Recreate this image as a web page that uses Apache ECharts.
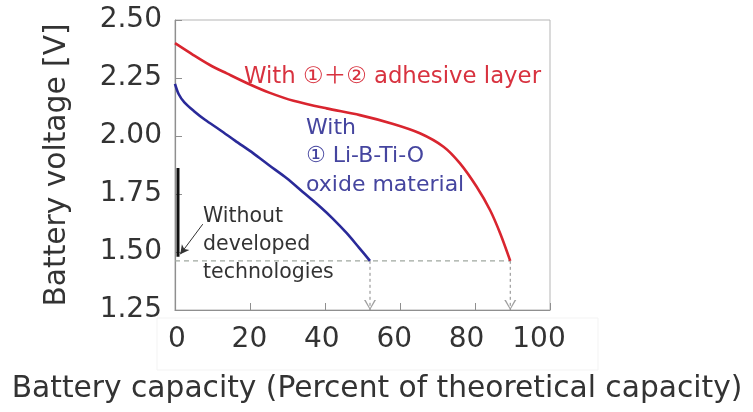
<!DOCTYPE html>
<html>
<head>
<meta charset="utf-8">
<script src="https://cdn.jsdelivr.net/npm/echarts@6/dist/echarts.min.js"></script>
<style>
html,body{margin:0;padding:0;background:#fff;}
#chart{width:753px;height:412px;}
</style>
</head>
<body>
<div id="chart"></div>
<script>
// ---- data ----
const xTickLabels = [0, 20, 40, 60, 80, 100];
const yTickLabels = ['1.25', '1.50', '1.75', '2.00', '2.25', '2.50'];

const adhesiveCurve = [ // With ①+② adhesive layer : [capacity %, voltage]
  [0, 2.40], [4.9, 2.349], [9.3, 2.306], [13.8, 2.27], [20, 2.222], [25.3, 2.186],
  [31.6, 2.152], [40.4, 2.119], [49.3, 2.09], [58.2, 2.052], [65.3, 2.012],
  [71.6, 1.954], [76, 1.882], [80.4, 1.782], [84, 1.681], [86.7, 1.581], [89.4, 1.462]
];
const oxideCurve = [ // With ① Li-B-Ti-O oxide material
  [0, 2.225], [1, 2.18], [2.5, 2.145], [5, 2.108], [8, 2.07], [12, 2.026],
  [16, 1.98], [20.9, 1.925], [25, 1.875], [29.8, 1.818], [34, 1.76], [38.7, 1.695],
  [42, 1.645], [45.8, 1.581], [49, 1.52], [52, 1.462]
];
const withoutBar = [[0.8, 1.862], [0.8, 1.479]]; // Without developed technologies
const cutoffVoltage = 1.462;
const cutoffLine = [[0, cutoffVoltage], [89.4, cutoffVoltage]];
const endCapacities = [52, 89.4];
const withoutArrow = [[7.4, 1.62], [1.4, 1.49]];

const yMin = 1.25, yMax = 2.5;

const chevron = 'path://M0,0 L1.7,0 L6,8 L10.3,0 L12,0 L6,10 Z';

const chart = echarts.init(document.getElementById('chart'), null, {renderer: 'canvas'});

const FONT = '"DejaVu Sans", "Noto Sans CJK JP", sans-serif';
const axisGrey = '#8f8f8f';

const series = [
  {
    name: 'cutoff', type: 'line', data: cutoffLine, symbol: 'none', silent: true,
    lineStyle: {color: '#a0a8a0', width: 1.2, type: [5, 4]}, z: 1
  },
  {
    name: 'With ①+② adhesive layer', type: 'line', data: adhesiveCurve, smooth: 0.3,
    symbol: 'none', lineStyle: {color: '#d9252f', width: 2.6}, z: 3
  },
  {
    name: 'With ① Li-B-Ti-O oxide material', type: 'line', data: oxideCurve, smooth: 0.3,
    symbol: 'none', lineStyle: {color: '#2a2a99', width: 2.6}, z: 3
  },
  {
    name: 'Without developed technologies', type: 'line', data: withoutBar, symbol: 'none',
    lineStyle: {color: '#111', width: 3}, z: 3,
    markLine: {
      silent: true, symbol: ['none', 'arrow'], symbolSize: [7, 9],
      label: {show: false},
      lineStyle: {color: '#333', width: 1, type: 'solid'},
      data: [[{coord: withoutArrow[0]}, {coord: withoutArrow[1]}]]
    }
  }
];
endCapacities.forEach((c, i) => {
  series.push({
    name: 'drop' + i, type: 'line', data: [[c, cutoffVoltage], [c, yMin]], symbol: 'none',
    silent: true, lineStyle: {color: '#888', width: 1, type: [3, 3]}, z: 2
  });
});
series.push({
  name: 'dropArrows', type: 'scatter', silent: true,
  data: endCapacities.map(c => [c, yMin]),
  symbol: chevron, symbolSize: [12, 10], symbolOffset: [0, -5],
  itemStyle: {color: '#888'}, z: 2
});

const option = {
  animation: false,
  backgroundColor: '#ffffff',
  grid: [
    {left: 175, top: 20, width: 375, height: 290, show: true, borderColor: '#b5b5b5', borderWidth: 1},
    {left: 177, top: 20, width: 362, height: 290, show: false}
  ],
  xAxis: [
    {
      type: 'value', gridIndex: 0, min: 0, max: 100, interval: 20,
      axisLine: {show: true, lineStyle: {color: axisGrey, width: 1.2}},
      axisTick: {show: true, inside: true, length: 7, lineStyle: {color: axisGrey}},
      axisLabel: {show: false},
      splitLine: {show: false},
      name: 'Battery capacity (Percent of theoretical capacity)',
      nameLocation: 'middle', nameGap: 64,
      nameTextStyle: {fontFamily: FONT, fontSize: 29.7, color: '#333', padding: [0, 0, 0, 29]}
    },
    {
      type: 'value', gridIndex: 1, min: 0, max: 100, interval: 20,
      axisLine: {show: false}, axisTick: {show: false}, splitLine: {show: false},
      axisLabel: {
        fontFamily: FONT, fontSize: 28, color: '#333', margin: 16,
        formatter: v => String(xTickLabels[Math.round(v / 20)])
      }
    }
  ],
  yAxis: [
    {
      type: 'value', gridIndex: 0, min: yMin, max: yMax, interval: 0.25,
      axisLine: {show: true, lineStyle: {color: axisGrey, width: 1.2}},
      axisTick: {show: true, inside: true, length: 7, lineStyle: {color: axisGrey}},
      splitLine: {show: false},
      axisLabel: {
        fontFamily: FONT, fontSize: 28, color: '#333', margin: 13,
        formatter: v => yTickLabels[Math.round((v - yMin) / 0.25)]
      },
      name: 'Battery voltage [V]', nameLocation: 'middle', nameRotate: 90, nameGap: 103,
      nameTextStyle: {fontFamily: FONT, fontSize: 29.7, color: '#333'}
    },
    {type: 'value', gridIndex: 1, min: yMin, max: yMax, show: false}
  ],
  series: series,
  graphic: [
    {
      type: 'rect', silent: true, z: -1,
      shape: {x: 157, y: 318, width: 441, height: 52},
      style: {fill: 'none', stroke: '#f3f3f3', lineWidth: 1}
    },
    {
      type: 'text', silent: true, x: 244, y: 77,
      style: {text: 'With ①＋② adhesive layer', font: '22.8px ' + FONT, fill: '#d8323f', verticalAlign: 'middle'}
    },
    {
      type: 'text', silent: true, x: 306, y: 114,
      style: {text: 'With\n① Li-B-Ti-O\noxide material', font: '22px ' + FONT, lineHeight: 28.5, fill: '#45459f', verticalAlign: 'top'}
    },
    {
      type: 'text', silent: true, x: 203, y: 203,
      style: {text: 'Without\ndeveloped\ntechnologies', font: '20.5px ' + FONT, lineHeight: 28, fill: '#333', verticalAlign: 'top'}
    }
  ]
};
chart.setOption(option);
</script>
</body>
</html>
